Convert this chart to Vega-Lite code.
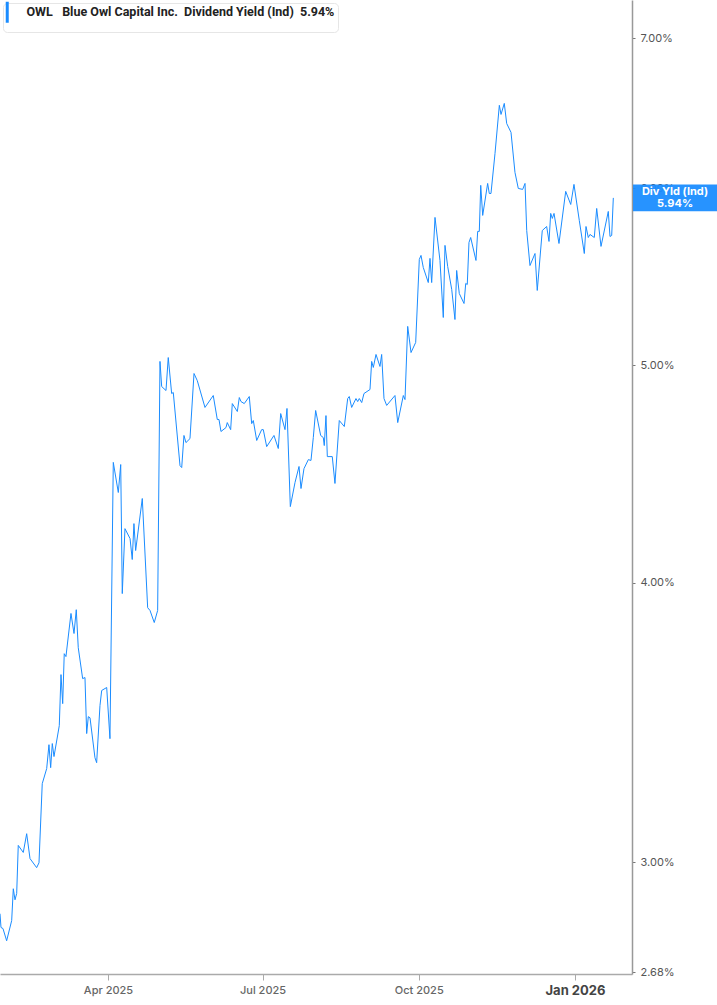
{
  "$schema": "https://vega.github.io/schema/vega-lite/v6.json",
  "width": 632,
  "height": 974,
  "autosize": {"type": "none"},
  "padding": {"left": 0, "top": 0, "right": 85, "bottom": 31},
  "background": "white",
  "config": {"view": {"stroke": null}, "font": "Inter"},
  "data": {"values": [
    {"date": "2025-01-27T10:00", "yield": 0.02846},
    {"date": "2025-01-28T00:00", "yield": 0.02806},
    {"date": "2025-01-29T04:00", "yield": 0.02803},
    {"date": "2025-01-31T08:00", "yield": 0.02768},
    {"date": "2025-02-03T07:00", "yield": 0.02826},
    {"date": "2025-02-04T06:00", "yield": 0.02920},
    {"date": "2025-02-05T06:00", "yield": 0.02887},
    {"date": "2025-02-06T06:00", "yield": 0.02906},
    {"date": "2025-02-07T04:00", "yield": 0.03053},
    {"date": "2025-02-10T03:00", "yield": 0.03031},
    {"date": "2025-02-12T03:00", "yield": 0.03090},
    {"date": "2025-02-14T02:00", "yield": 0.03012},
    {"date": "2025-02-18T00:00", "yield": 0.02984},
    {"date": "2025-02-19T09:00", "yield": 0.02999},
    {"date": "2025-02-21T07:00", "yield": 0.03253},
    {"date": "2025-02-23T22:00", "yield": 0.03304},
    {"date": "2025-02-25T06:00", "yield": 0.03386},
    {"date": "2025-02-26T06:00", "yield": 0.03307},
    {"date": "2025-02-27T05:00", "yield": 0.03390},
    {"date": "2025-02-28T05:00", "yield": 0.03345},
    {"date": "2025-03-03T08:00", "yield": 0.03453},
    {"date": "2025-03-04T08:00", "yield": 0.03639},
    {"date": "2025-03-05T08:00", "yield": 0.03532},
    {"date": "2025-03-06T06:00", "yield": 0.03718},
    {"date": "2025-03-07T06:00", "yield": 0.03707},
    {"date": "2025-03-10T05:00", "yield": 0.03875},
    {"date": "2025-03-12T00:00", "yield": 0.03796},
    {"date": "2025-03-13T08:00", "yield": 0.03890},
    {"date": "2025-03-14T12:00", "yield": 0.03741},
    {"date": "2025-03-17T02:00", "yield": 0.03624},
    {"date": "2025-03-18T11:00", "yield": 0.03628},
    {"date": "2025-03-19T11:00", "yield": 0.03425},
    {"date": "2025-03-20T10:00", "yield": 0.03485},
    {"date": "2025-03-21T10:00", "yield": 0.03481},
    {"date": "2025-03-24T08:00", "yield": 0.03341},
    {"date": "2025-03-25T08:00", "yield": 0.03324},
    {"date": "2025-03-27T07:00", "yield": 0.03525},
    {"date": "2025-03-28T07:00", "yield": 0.03580},
    {"date": "2025-03-31T06:00", "yield": 0.03591},
    {"date": "2025-04-02T04:00", "yield": 0.03407},
    {"date": "2025-04-04T03:00", "yield": 0.04526},
    {"date": "2025-04-07T02:00", "yield": 0.04388},
    {"date": "2025-04-08T12:00", "yield": 0.04516},
    {"date": "2025-04-09T10:00", "yield": 0.03955},
    {"date": "2025-04-11T00:00", "yield": 0.04228},
    {"date": "2025-04-14T00:00", "yield": 0.04185},
    {"date": "2025-04-15T07:00", "yield": 0.04096},
    {"date": "2025-04-16T07:00", "yield": 0.04250},
    {"date": "2025-04-17T07:00", "yield": 0.04134},
    {"date": "2025-04-21T05:00", "yield": 0.04361},
    {"date": "2025-04-24T09:00", "yield": 0.03898},
    {"date": "2025-04-25T18:00", "yield": 0.03887},
    {"date": "2025-04-28T06:00", "yield": 0.03839},
    {"date": "2025-04-30T06:00", "yield": 0.03887},
    {"date": "2025-05-01T15:00", "yield": 0.05021},
    {"date": "2025-05-02T15:00", "yield": 0.04893},
    {"date": "2025-05-05T04:00", "yield": 0.04873},
    {"date": "2025-05-06T12:00", "yield": 0.05041},
    {"date": "2025-05-08T12:00", "yield": 0.04858},
    {"date": "2025-05-09T11:00", "yield": 0.04863},
    {"date": "2025-05-13T10:00", "yield": 0.04511},
    {"date": "2025-05-14T10:00", "yield": 0.04502},
    {"date": "2025-05-15T18:00", "yield": 0.04653},
    {"date": "2025-05-16T22:00", "yield": 0.04619},
    {"date": "2025-05-19T07:00", "yield": 0.04638},
    {"date": "2025-05-21T16:00", "yield": 0.04959},
    {"date": "2025-05-23T14:00", "yield": 0.04923},
    {"date": "2025-05-28T03:00", "yield": 0.04789},
    {"date": "2025-06-02T00:00", "yield": 0.04848},
    {"date": "2025-06-04T09:00", "yield": 0.04730},
    {"date": "2025-06-05T09:00", "yield": 0.04730},
    {"date": "2025-06-06T13:00", "yield": 0.04672},
    {"date": "2025-06-09T12:00", "yield": 0.04691},
    {"date": "2025-06-10T06:00", "yield": 0.04715},
    {"date": "2025-06-12T06:00", "yield": 0.04681},
    {"date": "2025-06-13T05:00", "yield": 0.04808},
    {"date": "2025-06-16T04:00", "yield": 0.04769},
    {"date": "2025-06-17T08:00", "yield": 0.04838},
    {"date": "2025-06-18T08:00", "yield": 0.04818},
    {"date": "2025-06-20T06:00", "yield": 0.04808},
    {"date": "2025-06-23T05:00", "yield": 0.04843},
    {"date": "2025-06-24T15:00", "yield": 0.04710},
    {"date": "2025-06-25T14:00", "yield": 0.04725},
    {"date": "2025-06-27T14:00", "yield": 0.04629},
    {"date": "2025-06-30T12:00", "yield": 0.04681},
    {"date": "2025-07-01T11:00", "yield": 0.04681},
    {"date": "2025-07-03T11:00", "yield": 0.04600},
    {"date": "2025-07-07T18:00", "yield": 0.04653},
    {"date": "2025-07-10T07:00", "yield": 0.04591},
    {"date": "2025-07-11T17:00", "yield": 0.04759},
    {"date": "2025-07-14T06:00", "yield": 0.04681},
    {"date": "2025-07-15T10:00", "yield": 0.04784},
    {"date": "2025-07-17T09:00", "yield": 0.04325},
    {"date": "2025-07-20T03:00", "yield": 0.04433},
    {"date": "2025-07-22T12:00", "yield": 0.04507},
    {"date": "2025-07-23T16:00", "yield": 0.04406},
    {"date": "2025-07-25T10:00", "yield": 0.04497},
    {"date": "2025-07-28T00:00", "yield": 0.04539},
    {"date": "2025-07-29T13:00", "yield": 0.04535},
    {"date": "2025-07-30T22:00", "yield": 0.04643},
    {"date": "2025-08-01T07:00", "yield": 0.04774},
    {"date": "2025-08-04T06:00", "yield": 0.04653},
    {"date": "2025-08-05T19:00", "yield": 0.04643},
    {"date": "2025-08-06T09:00", "yield": 0.04605},
    {"date": "2025-08-07T09:00", "yield": 0.04749},
    {"date": "2025-08-08T04:00", "yield": 0.04553},
    {"date": "2025-08-11T02:00", "yield": 0.04553},
    {"date": "2025-08-12T16:00", "yield": 0.04429},
    {"date": "2025-08-15T05:00", "yield": 0.04725},
    {"date": "2025-08-18T04:00", "yield": 0.04696},
    {"date": "2025-08-20T04:00", "yield": 0.04833},
    {"date": "2025-08-21T02:00", "yield": 0.04843},
    {"date": "2025-08-22T12:00", "yield": 0.04789},
    {"date": "2025-08-25T01:00", "yield": 0.04833},
    {"date": "2025-08-26T01:00", "yield": 0.04818},
    {"date": "2025-08-27T00:00", "yield": 0.04833},
    {"date": "2025-08-28T10:00", "yield": 0.04813},
    {"date": "2025-08-29T18:00", "yield": 0.04858},
    {"date": "2025-09-02T07:00", "yield": 0.04878},
    {"date": "2025-09-03T07:00", "yield": 0.05021},
    {"date": "2025-09-04T06:00", "yield": 0.04990},
    {"date": "2025-09-05T20:00", "yield": 0.05057},
    {"date": "2025-09-08T04:00", "yield": 0.04995},
    {"date": "2025-09-09T04:00", "yield": 0.05057},
    {"date": "2025-09-10T13:00", "yield": 0.04833},
    {"date": "2025-09-12T03:00", "yield": 0.04799},
    {"date": "2025-09-17T00:00", "yield": 0.04848},
    {"date": "2025-09-18T15:00", "yield": 0.04715},
    {"date": "2025-09-21T22:00", "yield": 0.04848},
    {"date": "2025-09-22T22:00", "yield": 0.04828},
    {"date": "2025-09-24T12:00", "yield": 0.05205},
    {"date": "2025-09-26T11:00", "yield": 0.05067},
    {"date": "2025-09-29T05:00", "yield": 0.05120},
    {"date": "2025-10-01T08:00", "yield": 0.05576},
    {"date": "2025-10-02T08:00", "yield": 0.05599},
    {"date": "2025-10-03T16:00", "yield": 0.05530},
    {"date": "2025-10-06T15:00", "yield": 0.05445},
    {"date": "2025-10-07T15:00", "yield": 0.05582},
    {"date": "2025-10-08T15:00", "yield": 0.05445},
    {"date": "2025-10-10T14:00", "yield": 0.05822},
    {"date": "2025-10-13T12:00", "yield": 0.05570},
    {"date": "2025-10-15T11:00", "yield": 0.05253},
    {"date": "2025-10-16T11:00", "yield": 0.05657},
    {"date": "2025-10-18T01:00", "yield": 0.05536},
    {"date": "2025-10-20T10:00", "yield": 0.05407},
    {"date": "2025-10-22T08:00", "yield": 0.05242},
    {"date": "2025-10-23T08:00", "yield": 0.05513},
    {"date": "2025-10-24T21:00", "yield": 0.05384},
    {"date": "2025-10-27T16:00", "yield": 0.05329},
    {"date": "2025-10-28T16:00", "yield": 0.05440},
    {"date": "2025-10-29T14:00", "yield": 0.05434},
    {"date": "2025-10-30T14:00", "yield": 0.05674},
    {"date": "2025-10-31T14:00", "yield": 0.05703},
    {"date": "2025-11-03T17:00", "yield": 0.05570},
    {"date": "2025-11-04T17:00", "yield": 0.05739},
    {"date": "2025-11-05T16:00", "yield": 0.05739},
    {"date": "2025-11-06T12:00", "yield": 0.06017},
    {"date": "2025-11-07T16:00", "yield": 0.05834},
    {"date": "2025-11-10T14:00", "yield": 0.06029},
    {"date": "2025-11-11T13:00", "yield": 0.05967},
    {"date": "2025-11-12T13:00", "yield": 0.05967},
    {"date": "2025-11-14T22:00", "yield": 0.06218},
    {"date": "2025-11-17T11:00", "yield": 0.06533},
    {"date": "2025-11-18T11:00", "yield": 0.06472},
    {"date": "2025-11-20T09:00", "yield": 0.06546},
    {"date": "2025-11-21T19:00", "yield": 0.06412},
    {"date": "2025-11-24T08:00", "yield": 0.06354},
    {"date": "2025-11-26T16:00", "yield": 0.06098},
    {"date": "2025-11-28T15:00", "yield": 0.05998},
    {"date": "2025-12-01T05:00", "yield": 0.05992},
    {"date": "2025-12-02T14:00", "yield": 0.06029},
    {"date": "2025-12-03T14:00", "yield": 0.05744},
    {"date": "2025-12-05T12:00", "yield": 0.05541},
    {"date": "2025-12-08T11:00", "yield": 0.05610},
    {"date": "2025-12-09T19:00", "yield": 0.05401},
    {"date": "2025-12-12T18:00", "yield": 0.05744},
    {"date": "2025-12-15T08:00", "yield": 0.05768},
    {"date": "2025-12-16T17:00", "yield": 0.05680},
    {"date": "2025-12-17T17:00", "yield": 0.05846},
    {"date": "2025-12-18T16:00", "yield": 0.05816},
    {"date": "2025-12-19T16:00", "yield": 0.05846},
    {"date": "2025-12-22T14:00", "yield": 0.05668},
    {"date": "2025-12-26T13:00", "yield": 0.05980},
    {"date": "2025-12-29T12:00", "yield": 0.05900},
    {"date": "2025-12-31T10:00", "yield": 0.06023},
    {"date": "2026-01-03T13:00", "yield": 0.05804},
    {"date": "2026-01-06T12:00", "yield": 0.05610},
    {"date": "2026-01-07T12:00", "yield": 0.05768},
    {"date": "2026-01-08T20:00", "yield": 0.05703},
    {"date": "2026-01-09T20:00", "yield": 0.05721},
    {"date": "2026-01-12T09:00", "yield": 0.05703},
    {"date": "2026-01-13T19:00", "yield": 0.05876},
    {"date": "2026-01-16T08:00", "yield": 0.05651},
    {"date": "2026-01-20T15:00", "yield": 0.05858},
    {"date": "2026-01-21T15:00", "yield": 0.05709},
    {"date": "2026-01-22T15:00", "yield": 0.05715},
    {"date": "2026-01-23T14:00", "yield": 0.05940}
  ]},
  "layer": [
    {
      "mark": {"type": "line", "strokeWidth": 1, "clip": true},
      "encoding": {
        "x": {
          "field": "date", "type": "temporal",
          "scale": {"domain": [{"year": 2025, "month": 1, "date": 27, "hours": 10}, {"year": 2026, "month": 2, "date": 3, "hours": 14}]},
          "axis": {
            "title": null, "grid": false,
            "values": [{"year": 2025, "month": 4, "date": 1}, {"year": 2025, "month": 7, "date": 1}, {"year": 2025, "month": 10, "date": 1}, {"year": 2026, "month": 1, "date": 1}],
            "format": "%b %Y",
            "domainColor": "#aaaaaa", "domainWidth": 1.5,
            "tickColor": "#aaaaaa", "tickSize": 6,
            "labelPadding": 4, "labelFont": "Inter", "labelOverlap": false,
            "labelFontSize": {"condition": {"test": "month(datum.value) == 0", "value": 13}, "value": 11},
            "labelFontWeight": {"condition": {"test": "month(datum.value) == 0", "value": "bold"}, "value": 500},
            "labelColor": {"condition": {"test": "month(datum.value) == 0", "value": "#444444"}, "value": "#666666"}
          }
        },
        "y": {
          "field": "yield", "type": "quantitative",
          "scale": {"type": "log", "domain": [0.02675, 0.0728], "nice": false, "zero": false},
          "axis": {
            "orient": "right", "title": null, "grid": false,
            "values": [0.0268, 0.03, 0.04, 0.05, 0.06, 0.07],
            "format": ".2%",
            "domainColor": "#999999", "domainWidth": 1.5,
            "tickColor": "#777777", "tickSize": 3,
            "labelPadding": 5, "labelFont": "Inter", "labelFontSize": 11,
            "labelColor": "#555555", "labelOverlap": false, "labelFlush": false
          }
        },
        "color": {
          "datum": "OWL\u00a0\u00a0\u00a0Blue Owl Capital Inc.\u00a0\u00a0Dividend Yield (Ind)\u00a0\u00a05.94%\u00a0\u00a0\u00a0",
          "type": "nominal",
          "scale": {"range": ["#1a8cff"]},
          "legend": {
            "title": null, "orient": "top-left", "offset": 3, "padding": 3,
            "fillColor": "white", "strokeColor": "#e6e6e6", "cornerRadius": 4,
            "symbolType": "M-1.43,-3L-1.43,3", "symbolStrokeWidth": 3, "symbolSize": 49,
            "labelFont": "Roboto", "labelFontSize": 12.5, "labelFontWeight": "bold",
            "labelColor": "#222222", "labelLimit": 600, "labelOffset": 8
          }
        }
      }
    },
    {
      "transform": [
        {"window": [{"op": "row_number", "as": "rn"}], "sort": [{"field": "date", "order": "descending"}]},
        {"filter": "datum.rn == 1"}
      ],
      "mark": {"type": "point", "shape": "M-1,-0.32L1,-0.32L1,0.32L-1,0.32Z", "size": 7056, "filled": true, "opacity": 0.94, "color": "#1a8cff", "strokeWidth": 0},
      "encoding": {
        "x": {"datum": {"year": 2026, "month": 2, "date": 28, "hours": 22}, "type": "temporal"},
        "y": {"field": "yield", "type": "quantitative"}
      }
    },
    {
      "transform": [
        {"window": [{"op": "row_number", "as": "rn"}], "sort": [{"field": "date", "order": "descending"}]},
        {"filter": "datum.rn == 1"}
      ],
      "mark": {"type": "text", "text": "Div Yld (Ind)", "color": "white", "font": "Inter", "fontWeight": "bold", "fontSize": 11, "dy": -6, "align": "center", "baseline": "middle"},
      "encoding": {
        "x": {"datum": {"year": 2026, "month": 2, "date": 28, "hours": 22}, "type": "temporal"},
        "y": {"field": "yield", "type": "quantitative"}
      }
    },
    {
      "transform": [
        {"window": [{"op": "row_number", "as": "rn"}], "sort": [{"field": "date", "order": "descending"}]},
        {"filter": "datum.rn == 1"}
      ],
      "mark": {"type": "text", "color": "white", "font": "Inter", "fontWeight": "bold", "fontSize": 11, "dy": 6, "align": "center", "baseline": "middle"},
      "encoding": {
        "x": {"datum": {"year": 2026, "month": 2, "date": 28, "hours": 22}, "type": "temporal"},
        "y": {"field": "yield", "type": "quantitative"},
        "text": {"field": "yield", "type": "quantitative", "format": ".2%"}
      }
    }
  ]
}
